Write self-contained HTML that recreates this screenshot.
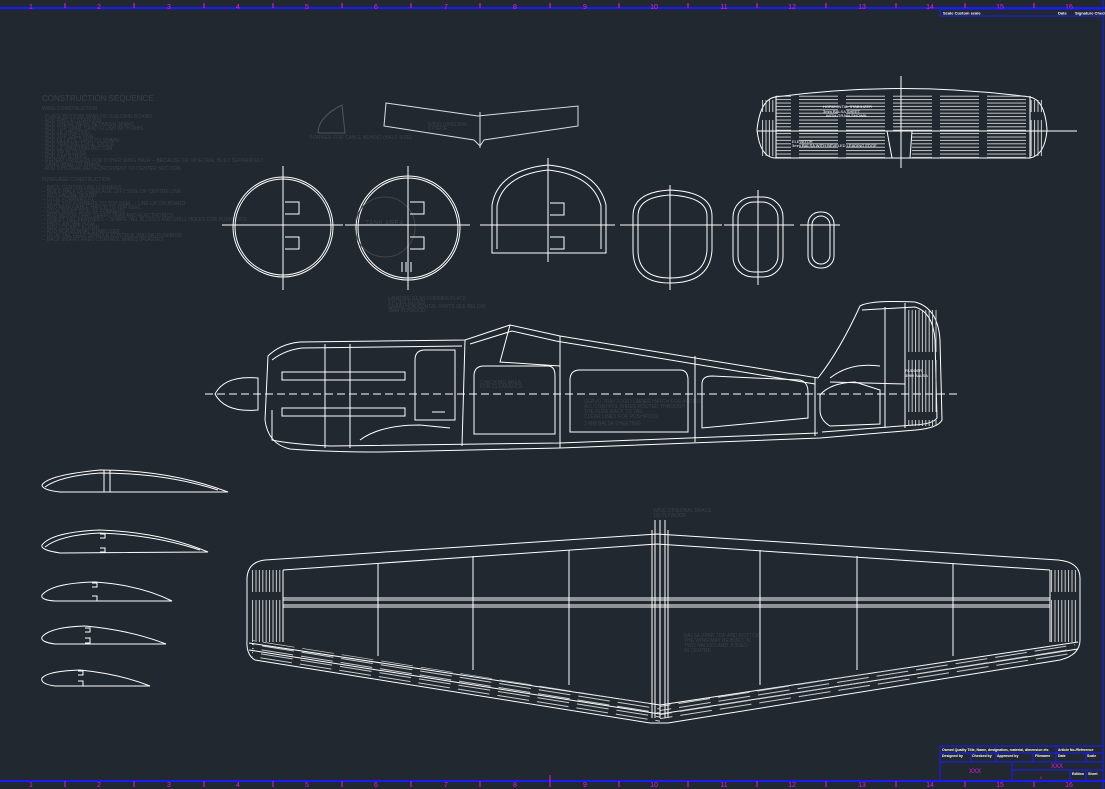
<!DOCTYPE html>
<html><head><meta charset="utf-8"><style>
html,body{margin:0;padding:0;background:#212830;}
svg{display:block}
text{font-family:"Liberation Sans",sans-serif;}
</style></head><body>
<svg width="1105" height="789" viewBox="0 0 1105 789" xmlns="http://www.w3.org/2000/svg">
<defs>
<pattern id="hh" width="47" height="3.4" patternUnits="userSpaceOnUse"><line x1="0" y1="1" x2="39" y2="1" stroke="#ddd" stroke-width="0.9"/></pattern>
<pattern id="vv" width="3.4" height="60" patternUnits="userSpaceOnUse"><line x1="1" y1="0" x2="1" y2="52" stroke="#ddd" stroke-width="0.9"/></pattern>
<pattern id="dd" width="40" height="4" patternUnits="userSpaceOnUse" patternTransform="rotate(9)"><line x1="0" y1="1" x2="32" y2="1" stroke="#ccc" stroke-width="0.9"/></pattern>
<pattern id="dd2" width="40" height="4" patternUnits="userSpaceOnUse" patternTransform="rotate(-9)"><line x1="0" y1="1" x2="32" y2="1" stroke="#ccc" stroke-width="0.9"/></pattern>
</defs>
<rect width="1105" height="789" fill="#212830"/>
<line x1="0" y1="8" x2="1105" y2="8" stroke="#1a1aff" stroke-width="2"/>
<line x1="0" y1="781" x2="1105" y2="781" stroke="#1a1aff" stroke-width="2"/>
<line x1="1103" y1="0" x2="1103" y2="789" stroke="#1a1aff" stroke-width="1"/>
<g stroke="#e020e0" stroke-width="1">
<line x1="65" y1="3" x2="65" y2="8"/><line x1="134" y1="3" x2="134" y2="8"/><line x1="204" y1="3" x2="204" y2="8"/><line x1="273" y1="3" x2="273" y2="8"/><line x1="342" y1="3" x2="342" y2="8"/><line x1="411" y1="3" x2="411" y2="8"/><line x1="480" y1="3" x2="480" y2="8"/><line x1="550" y1="3" x2="550" y2="8"/><line x1="619" y1="3" x2="619" y2="8"/><line x1="688" y1="3" x2="688" y2="8"/><line x1="757" y1="3" x2="757" y2="8"/><line x1="826" y1="3" x2="826" y2="8"/><line x1="896" y1="3" x2="896" y2="8"/><line x1="965" y1="3" x2="965" y2="8"/><line x1="1034" y1="3" x2="1034" y2="8"/>
<line x1="65" y1="781" x2="65" y2="787"/><line x1="134" y1="781" x2="134" y2="787"/><line x1="204" y1="781" x2="204" y2="787"/><line x1="273" y1="781" x2="273" y2="787"/><line x1="342" y1="781" x2="342" y2="787"/><line x1="411" y1="781" x2="411" y2="787"/><line x1="480" y1="781" x2="480" y2="787"/><line x1="550" y1="775" x2="550" y2="787"/><line x1="619" y1="781" x2="619" y2="787"/><line x1="688" y1="781" x2="688" y2="787"/><line x1="757" y1="781" x2="757" y2="787"/><line x1="826" y1="781" x2="826" y2="787"/><line x1="896" y1="781" x2="896" y2="787"/><line x1="965" y1="781" x2="965" y2="787"/><line x1="1034" y1="781" x2="1034" y2="787"/>
</g>
<g fill="#e020e0" font-size="7" text-anchor="middle">
<text x="31" y="9">1</text><text x="99" y="9">2</text><text x="169" y="9">3</text><text x="238" y="9">4</text><text x="307" y="9">5</text><text x="376" y="9">6</text><text x="446" y="9">7</text><text x="515" y="9">8</text><text x="585" y="9">9</text><text x="654" y="9">10</text><text x="724" y="9">11</text><text x="792" y="9">12</text><text x="862" y="9">13</text><text x="930" y="9">14</text><text x="1000" y="9">15</text><text x="1069" y="9">16</text>
<text x="31" y="787">1</text><text x="99" y="787">2</text><text x="169" y="787">3</text><text x="238" y="787">4</text><text x="307" y="787">5</text><text x="376" y="787">6</text><text x="446" y="787">7</text><text x="515" y="787">8</text><text x="585" y="787">9</text><text x="654" y="787">10</text><text x="724" y="787">11</text><text x="792" y="787">12</text><text x="862" y="787">13</text><text x="930" y="787">14</text><text x="1000" y="787">15</text><text x="1069" y="787">16</text>
</g>
<rect x="940" y="9" width="163" height="7" fill="none" stroke="#1a1aff"/>
<g fill="#fff" font-size="4" font-weight="bold"><text x="943" y="14.5">Scale  Custom scale</text><text x="1058" y="14.5">Date</text><text x="1075" y="14.5">Signature Checked</text></g>

<g fill="#3a4048" font-size="5">
<text x="42" y="101" font-size="8">CONSTRUCTION SEQUENCE</text>
<text x="42" y="110">WING CONSTRUCTION</text>
<text x="42" y="118">- PLACE BOTTOM SPAR ON BUILDING BOARD</text><text x="42" y="122">- ADD RIBS AT STATIONS</text><text x="42" y="126">- ADD SHEAR WEBS BETWEEN SPARS</text><text x="42" y="130">- ADD TOP SPAR, SAND FLUSH WITH RIBS</text><text x="42" y="134">- ADD LE SHEETING</text><text x="42" y="138">- ADD TOP SHEETING</text><text x="42" y="142">- ADD FILLETS, SAND TO SHAPE</text><text x="42" y="146">- ADD TRAILING EDGE STOCK</text><text x="42" y="150">- ADD LE SHEETING BOTTOM</text><text x="42" y="154">- ADD TIP BLOCKS</text><text x="42" y="158">- ADD CAP STRIPS</text><text x="42" y="162">- REPEAT PROCESS FOR OTHER WING HALF -- BECAUSE OF DIHEDRAL BUILT SEPARATELY</text><text x="42" y="166">- SAND WING TO SHAPE</text><text x="42" y="170">- ADD DIHEDRAL REINFORCEMENT TO CENTER SECTION</text>
<text x="42" y="181">FUSELAGE CONSTRUCTION</text>
<text x="42" y="189">-- BACK CENTER LINE FORMERS</text><text x="42" y="193">-- BUILD HALF OF FUSELAGE LEFT SIDE OF CENTRE LINE</text><text x="42" y="197">-- ADD ENGINE MOUNT</text><text x="42" y="201">-- GLUE FORMERS F1</text><text x="42" y="205">-- GLUE TOP FORMERS TO TOP KEEL -- LINE UP ON BOARD</text><text x="42" y="209">-- ADD REMOVABLE HATCH TO TOP KEEL</text><text x="42" y="213">-- GLUE RIGHT SIDE OF FORMERS</text><text x="42" y="217">-- ADD MOTOR TRAY, SERVO TRAY AND ELECTRONICS</text><text x="42" y="221">-- INSERT TAIL FEATHERS -- SHAPE TAIL BLOCKS AND DRILL HOLES FOR PUSHRODS</text><text x="42" y="225">-- PAINT ENTIRE FUSE</text><text x="42" y="229">-- ADD COCKPIT FLOOR</text><text x="42" y="233">-- ADD HORIZONTAL STABILIZER</text><text x="42" y="237">-- GLUE TAIL FEED SPINDLE CONTROL (BALSA) PUSHROD</text><text x="42" y="241">-- BACK INSERT FEED CONTROL WIRES (PLASTIC)</text>
<text x="310" y="139">FORMER FOR CABLE BEHIND (HALF SIZE)</text>
<text x="428" y="126">WING DIHEDRAL</text><text x="428" y="130">1 PIECE</text>
<text x="388" y="300">LANDING GEAR FORMER PLATE</text><text x="388" y="304">3 PLIES GLUED</text><text x="388" y="308">GRAIN HORIZONTAL PARTS SEE BELOW</text><text x="388" y="312">3MM PLYWOOD</text>
<text x="480" y="384">CHECKING AREA</text><text x="480" y="388">FOR CLEARANCE</text>
<text x="584" y="403">SERVO TRAY FIXED UNDER HATCH FOR ACCESS</text><text x="584" y="408">ALL CONTROL WIRES ROUTED THROUGH</text><text x="584" y="413">THE FUSE BACK TO TAIL</text><text x="584" y="418">CLEAR LINES FOR PUSHRODS</text><text x="584" y="425">3 MM BALSA SHEETING</text>
<text x="653" y="512">WING DIHEDRAL BRACE</text><text x="653" y="517">1/8 PLYWOOD</text>
<text x="684" y="637">BALSA SPAR TOP AND BOTTOM</text><text x="684" y="642">THE WING MAY BE BUILT IN</text><text x="684" y="647">TWO HALVES AND JOINED</text><text x="684" y="652">IN CENTRE</text>
<text x="365" y="225" font-size="7">TANK AREA</text>
</g>

<g fill="none" stroke="#fff" stroke-width="1">
<path d="M318 133 Q318 117 342 105 L345 133 Z" stroke="#555"/>
<path d="M386 103 L478 116 L578 106 L578 126 L484 140 L480 146 L474 140 L384 126 Z" stroke="#ddd"/>
<line x1="480" y1="112" x2="480" y2="148" stroke="#ddd"/>

<circle cx="283" cy="227" r="50"/><circle cx="283" cy="227" r="48"/>
<line x1="222" y1="225" x2="343" y2="225"/><line x1="283" y1="166" x2="283" y2="290"/>
<path d="M285 202 h14 v12 h-14 M285 237 h14 v12 h-14"/>
<circle cx="408" cy="228" r="52"/><circle cx="408" cy="228" r="50"/>
<circle cx="385" cy="227" r="30" stroke="#444"/>
<line x1="345" y1="225" x2="470" y2="225"/><line x1="408" y1="166" x2="408" y2="290"/>
<path d="M410 202 h14 v12 h-14 M410 237 h14 v12 h-14"/>
<path d="M402 262 v10 M406 262 v10 M411 262 v10"/>
<path d="M492 253 L492 205 Q498 170 548 165 Q598 170 606 205 L606 253 Z"/>
<path d="M497 249 L497 206 Q503 175 548 170 Q593 175 601 206 L601 249"/>
<line x1="480" y1="225" x2="615" y2="225"/><line x1="548" y1="158" x2="548" y2="262"/>
<path d="M550 203 h14 v12 h-14 M550 237 h14 v12 h-14"/>
<path d="M633 216 Q633 192 670 190 Q712 192 712 216 L712 250 Q710 283 670 283 Q633 283 633 250 Z"/>
<path d="M638 216 Q638 197 670 195 Q707 197 707 216 L707 250 Q705 278 670 278 Q638 278 638 250 Z"/>
<line x1="620" y1="225" x2="722" y2="225"/><line x1="670" y1="185" x2="670" y2="290"/>
<rect x="733" y="197" width="50" height="80" rx="20"/><rect x="738" y="202" width="40" height="70" rx="16"/>
<line x1="724" y1="225" x2="794" y2="225"/><line x1="758" y1="190" x2="758" y2="285"/>
<rect x="808" y="212" width="26" height="56" rx="12"/><rect x="812" y="216" width="18" height="48" rx="9"/>
<line x1="800" y1="225" x2="840" y2="225"/>

<path d="M775 97 Q760 100 757 130 Q760 157 775 158 L1030 158 Q1045 155 1047 130 Q1045 100 1030 97 Q900 80 775 97 Z"/>
<rect x="776" y="131" width="111" height="27" fill="url(#hh)" stroke="none"/>
<rect x="912" y="131" width="118" height="27" fill="url(#hh)" stroke="none"/>
<rect x="776" y="94" width="254" height="37" fill="url(#hh)" stroke="none"/>
<rect x="760" y="100" width="16" height="56" fill="url(#vv)" stroke="none"/>
<rect x="1030" y="100" width="14" height="56" fill="url(#vv)" stroke="none"/>
<line x1="776" y1="96" x2="776" y2="158"/><line x1="1030" y1="96" x2="1030" y2="158"/>
<path d="M887 131 L892 158 M912 131 L910 158"/>
<line x1="757" y1="131" x2="1077" y2="131"/><line x1="901" y1="76" x2="901" y2="168"/>
<g fill="#fff" stroke="none" font-size="4"><text x="823" y="108">HORIZONTAL STABILIZER</text><text x="823" y="113">3mm BALSA SHEET</text><text x="826" y="117">WITH GRAIN SHOWN</text><text x="792" y="143">ELEVATOR</text><text x="792" y="147">3mm BALSA WITH BEVELED LEADING EDGE</text></g>

<path d="M258 378 Q225 375 215 394 Q225 413 258 410 Z"/>
<line x1="205" y1="394" x2="960" y2="394" stroke-dasharray="8 4"/>
<path d="M268 356 Q280 344 300 342 L465 340 L510 325 L560 336 L818 378 Q840 350 860 306 Q870 300 915 302 Q938 308 940 340 L942 420 Q938 428 916 430 L820 438 L560 448 L380 452 Q330 452 290 449 Q268 444 265 420 Z"/>
<path d="M272 360 Q285 350 302 348 L462 346 M470 344 L512 331 L556 341 L815 384"/>
<path d="M862 310 L915 307 Q933 312 935 340 L937 418 Q933 424 914 425 L822 432"/>
<path d="M272 410 L272 440 Q290 444 330 446 L560 443 L818 433"/>
<path d="M465 340 L462 446 M325 344 L325 448 M350 344 L350 448 M560 336 L560 448 M695 356 L695 442 M815 378 L815 436 M885 307 L885 428 M905 303 L905 428"/>
<path d="M510 325 L500 362 L560 366"/>
<path d="M282 372 L405 372 L405 380 L282 380 Z M282 408 L405 408 L405 416 L282 416 Z"/>
<path d="M415 360 Q415 350 425 350 L455 350 L455 420 L415 420 Z" />
<path d="M474 376 Q474 366 484 366 L548 366 Q555 366 555 376 L555 434 L474 434 Z"/>
<path d="M570 380 Q570 370 580 370 L680 370 Q688 370 688 380 L688 432 L570 432 Z"/>
<path d="M702 384 Q702 376 712 376 L800 380 Q808 382 808 392 L808 418 L702 428 Z"/>
<path d="M820 395 Q830 383 855 382 L880 390 L880 424 L830 426 Q820 420 820 410 Z"/>
<path d="M360 440 Q380 425 420 425 L450 428 M432 412 L445 412"/>
<rect x="906" y="310" width="32" height="116" fill="url(#vv)" stroke="none"/>
<path d="M830 378 Q850 362 880 366 M830 382 L905 384"/>
<g fill="#fff" stroke="none" font-size="4"><text x="905" y="372">RUDDER</text><text x="905" y="377">3MM BALSA</text></g>

<path d="M42 485 Q48 475 100 470 Q170 470 228 492 L60 492 Q42 490 42 485 Z"/>
<path d="M45 487 Q60 476 100 473 Q165 473 218 490" /><path d="M104 470 v22 M110 470 v22"/>
<path d="M42 545 Q52 532 100 530 Q160 532 208 552 L60 553 Q40 550 42 545 Z"/>
<path d="M45 547 Q60 535 100 533 Q155 535 200 550"/><path d="M100 534 h5 v4 h-5 M100 548 h5 v4 h-5"/>
<path d="M42 595 Q52 583 95 582 Q140 585 172 601 L55 601 Q40 600 42 595 Z"/>
<path d="M92 583 h5 v4 h-5 M92 596 h5 v5 h-5"/>
<path d="M42 637 Q50 627 85 626 Q130 630 166 644 L55 644 Q40 642 42 637 Z"/>
<path d="M85 628 h5 v4 h-5 M85 638 h5 v5 h-5"/>
<path d="M42 678 Q48 671 80 670 Q120 674 150 686 L55 686 Q40 684 42 678 Z"/>
<path d="M78 671 h5 v4 h-5 M78 681 h5 v5 h-5"/>

<path d="M265 560 L657 534 L1058 560 Q1080 562 1080 578 L1080 640 Q1080 655 1060 660 L668 723 L650 723 L255 660 Q246 655 247 640 L247 578 Q248 562 265 560 Z"/>
<path d="M283 570 L657 544 L1050 570"/>
<path d="M283 598 L1050 598 M283 600 L1050 600 M283 605 L1050 605 M283 607 L1050 607"/>
<path d="M249 643 L660 705 L1078 642 M249 650 L660 714 L1078 649"/>
<path d="M252 640 L660 705 L660 722 L252 657 Z" fill="url(#dd)" stroke="none"/>
<path d="M660 705 L1075 642 L1075 655 L660 720 Z" fill="url(#dd2)" stroke="none"/>
<rect x="250" y="570" width="33" height="72" fill="url(#vv)" stroke="none"/>
<rect x="1050" y="570" width="28" height="72" fill="url(#vv)" stroke="none"/>
<line x1="283" y1="570" x2="283" y2="642"/><line x1="1050" y1="570" x2="1050" y2="642"/>
<path d="M378 563 L378 656 M473 556 L473 670 M569 550 L569 685 M760 550 L760 685 M857 556 L857 670 M953 563 L953 656"/>
<path d="M655 520 L655 718 M660 520 L660 718 M665 520 L665 718 M668 530 L668 718 M652 530 L652 718"/>
</g>

<g fill="none" stroke="#1a1aff" stroke-width="1">
<rect x="940" y="746" width="163" height="35"/>
<line x1="940" y1="753" x2="1103" y2="753"/><line x1="940" y1="762" x2="1103" y2="762"/>
<line x1="1012" y1="770" x2="1103" y2="770"/><line x1="1012" y1="762" x2="1012" y2="781"/>
<line x1="996" y1="746" x2="996" y2="753"/><line x1="1056" y1="746" x2="1056" y2="762"/>
<line x1="971" y1="753" x2="971" y2="762"/><line x1="996" y1="753" x2="996" y2="762"/><line x1="1033" y1="753" x2="1033" y2="762"/><line x1="1086" y1="753" x2="1086" y2="762"/>
<line x1="1070" y1="770" x2="1070" y2="781"/><line x1="1086" y1="770" x2="1086" y2="781"/>
</g>
<g fill="#fff" font-size="3.5" font-weight="bold">
<text x="942" y="751">Owned  Quality  Title, Name, designation, material, dimension etc</text><text x="1058" y="751">Article No./Reference</text>
<text x="942" y="757">Designed by</text><text x="972" y="757">Checked by</text><text x="997" y="757">Approved by</text><text x="1035" y="757">Filename</text><text x="1058" y="757">Date</text><text x="1087" y="757">Scale</text>
<text x="1072" y="775">Edition</text><text x="1088" y="775">Sheet</text>
</g>
<g fill="#e020e0" font-size="6" text-anchor="middle"><text x="975" y="773">XXX</text><text x="1057" y="768">XXX</text><text x="1041" y="779" font-size="4">X</text></g>
</svg>
</body></html>
